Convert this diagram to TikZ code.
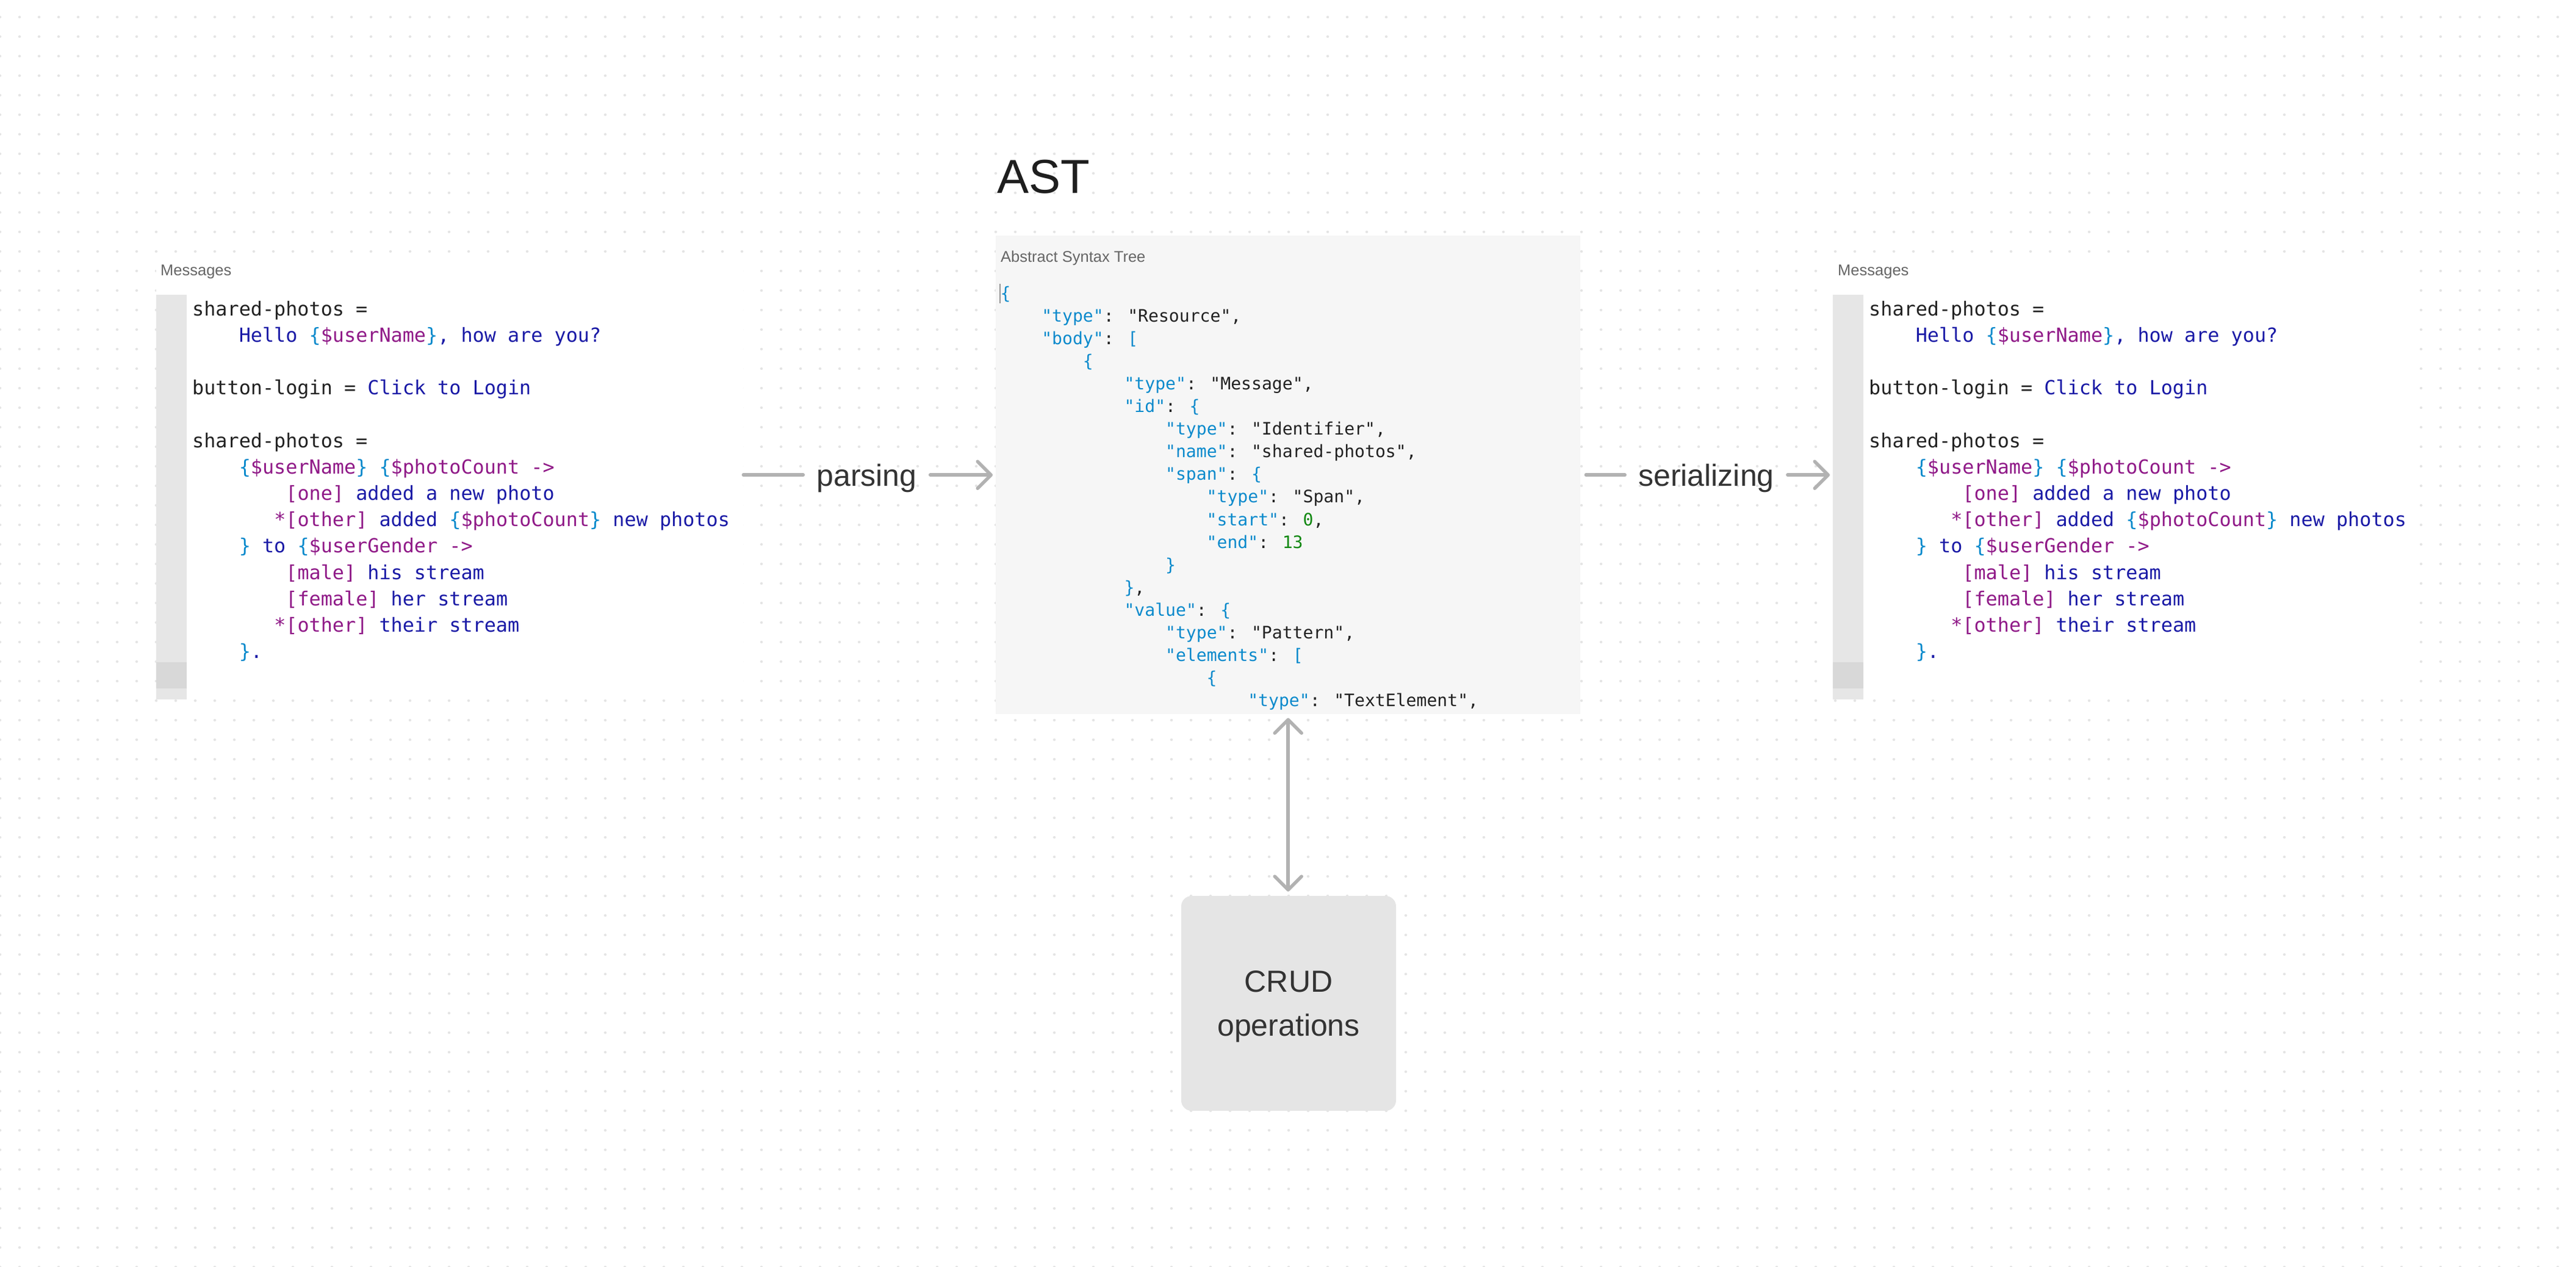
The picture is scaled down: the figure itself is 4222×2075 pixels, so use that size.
\documentclass[tikz,border=0pt]{standalone}
\usepackage{fontspec}
\setmainfont{Liberation Sans}
\newfontfamily\codefont{DejaVu Sans Mono}
\usetikzlibrary{arrows.meta}

\definecolor{dotc}{RGB}{228,228,228}
\definecolor{arrc}{RGB}{178,178,178}
\definecolor{kblack}{RGB}{34,34,34}
\definecolor{kstr}{RGB}{26,26,166}
\definecolor{kbr}{RGB}{10,138,204}
\definecolor{kvar}{RGB}{144,26,136}
\definecolor{knum}{RGB}{17,136,17}
\definecolor{astbg}{RGB}{246,246,246}
\definecolor{barc}{RGB}{230,230,230}
\definecolor{bard}{RGB}{216,216,216}
\definecolor{crudbg}{RGB}{229,229,229}
\definecolor{lblc}{RGB}{102,102,102}
\definecolor{txtc}{RGB}{51,51,51}
\definecolor{titlec}{RGB}{30,30,30}

\newcommand\colK[1]{\textcolor{kblack}{#1}}
\newcommand\colS[1]{\textcolor{kstr}{#1}}
\newcommand\colB[1]{\textcolor{kbr}{#1}}
\newcommand\colV[1]{\textcolor{kvar}{#1}}
\newcommand\colN[1]{\textcolor{knum}{#1}}

\tikzset{
  conn/.style={draw=arrc, line width=5.5pt, line cap=round},
  flowarrow/.style={conn, -{Straight Barb[length=22pt,width=44pt,round]}},
  panel/.style={rectangle, fill=white, inner sep=0pt, minimum width=962pt, minimum height=726pt, anchor=north west},
  codeM/.style={anchor=base west, inner sep=0pt, font=\codefont\fontsize{31.8pt}{40pt}\selectfont},
  codeJ/.style={anchor=base west, inner sep=0pt, font=\codefont\fontsize{28.1pt}{36pt}\selectfont},
  lbl/.style={anchor=base west, inner sep=0pt, text=lblc, font=\fontsize{25.5pt}{30pt}\selectfont},
  flowlbl/.style={anchor=base, inner ysep=0pt, inner xsep=22pt, text=txtc, font=\fontsize{50pt}{60pt}\selectfont},
}

% #1 = x of column 0, #2 = node name prefix
\newcommand\drawmsgs[2]{%
  \node[codeM] (#2a) at (#1,517) {\colK{shared-photos =}};
  \node[codeM] (#2b) at ({#1+76.6},560.2) {\colS{Hello} \colB{\{}\colV{\$userName}\colB{\}}\colS{, how are you?}};
  \node[codeM] (#2c) at (#1,646.6) {\colK{button-login =} \colS{Click to Login}};
  \node[codeM] (#2d) at (#1,733) {\colK{shared-photos =}};
  \node[codeM] (#2e) at ({#1+76.6},776.2) {\colB{\{}\colV{\$userName}\colB{\}} \colB{\{}\colV{\$photoCount ->}};
  \node[codeM] (#2f) at ({#1+153.2},819.4) {\colV{[one]} \colS{added a new photo}};
  \node[codeM] (#2g) at ({#1+134.05},862.6) {\colV{*[other]} \colS{added} \colB{\{}\colV{\$photoCount}\colB{\}} \colS{new photos}};
  \node[codeM] (#2h) at ({#1+76.6},905.8) {\colB{\}} \colS{to} \colB{\{}\colV{\$userGender ->}};
  \node[codeM] (#2i) at ({#1+153.2},949) {\colV{[male]} \colS{his stream}};
  \node[codeM] (#2j) at ({#1+153.2},992.2) {\colV{[female]} \colS{her stream}};
  \node[codeM] (#2k) at ({#1+134.05},1035.4) {\colV{*[other]} \colS{their stream}};
  \node[codeM] (#2l) at ({#1+76.6},1078.6) {\colB{\}}\colS{.}};
}

\begin{document}
\begin{tikzpicture}[x=1pt,y=-1pt]
  \fill[white] (0,0) rectangle (4222,2075);
  \useasboundingbox (0,0) rectangle (4222,2075);

  % dotted canvas
  \foreach \r in {0,...,64}{
    \draw[dotc, line width=4.5pt, line cap=round, dash pattern=on 0.01pt off 31.99pt]
      (0,{28+32*\r}) -- (4222,{28+32*\r});
  }

  % title
  \node[anchor=base west, inner sep=0pt, text=titlec, font=\fontsize{78pt}{90pt}\selectfont] (asttitle) at (1634,316) {AST};

  % left messages panel
  \node[panel] (msgL) at (256,420) {};
  \fill[barc] (256,483) rectangle (306,1146);
  \fill[bard] (256,1085) rectangle (306,1128);
  \node[lbl] (msgLlbl) at (263,451) {Messages};
  \drawmsgs{315}{L}

  % right messages panel
  \node[panel] (msgR) at (3004,420) {};
  \fill[barc] (3004,483) rectangle (3054,1146);
  \fill[bard] (3004,1085) rectangle (3054,1128);
  \node[lbl] (msgRlbl) at (3012,451) {Messages};
  \drawmsgs{3063}{R}

  % AST panel
  \node[rectangle, fill=astbg, inner sep=0pt, minimum width=958pt, minimum height=784pt, anchor=north west] (ast) at (1632,386) {};
  \node[lbl] (astlbl) at (1640,429) {Abstract Syntax Tree};
  \draw[lblc!70, line width=1.5pt] (1639,465) -- (1639,497);
  \node[codeJ] (j1) at (1639.5,490) {\colB{\{}};
  \node[codeJ] (j2) at (1707.1,527.1) {\colB{"type"}\colK{: "Resource",}};
  \node[codeJ] (j3) at (1707.1,564.2) {\colB{"body"}\colK{:} \colB{[}};
  \node[codeJ] (j4) at (1774.7,601.3) {\colB{\{}};
  \node[codeJ] (j5) at (1842.3,638.4) {\colB{"type"}\colK{: "Message",}};
  \node[codeJ] (j6) at (1842.3,675.5) {\colB{"id"}\colK{:} \colB{\{}};
  \node[codeJ] (j7) at (1909.9,712.6) {\colB{"type"}\colK{: "Identifier",}};
  \node[codeJ] (j8) at (1909.9,749.7) {\colB{"name"}\colK{: "shared-photos",}};
  \node[codeJ] (j9) at (1909.9,786.8) {\colB{"span"}\colK{:} \colB{\{}};
  \node[codeJ] (j10) at (1977.5,823.9) {\colB{"type"}\colK{: "Span",}};
  \node[codeJ] (j11) at (1977.5,861) {\colB{"start"}\colK{:} \colN{0}\colK{,}};
  \node[codeJ] (j12) at (1977.5,898.1) {\colB{"end"}\colK{:} \colN{13}};
  \node[codeJ] (j13) at (1909.9,935.2) {\colB{\}}};
  \node[codeJ] (j14) at (1842.3,972.3) {\colB{\}}\colK{,}};
  \node[codeJ] (j15) at (1842.3,1009.4) {\colB{"value"}\colK{:} \colB{\{}};
  \node[codeJ] (j16) at (1909.9,1046.5) {\colB{"type"}\colK{: "Pattern",}};
  \node[codeJ] (j17) at (1909.9,1083.6) {\colB{"elements"}\colK{:} \colB{[}};
  \node[codeJ] (j18) at (1977.5,1120.7) {\colB{\{}};
  \node[codeJ] (j19) at (2045.1,1157.8) {\colB{"type"}\colK{: "TextElement",}};

  % CRUD box
  \node[rectangle, rounded corners=17pt, fill=crudbg, minimum width=352pt, minimum height=352pt,
        inner sep=0pt, align=center, text=txtc, font=\fontsize{50pt}{72pt}\selectfont] (crud) at (2112,1644) {\rule{0pt}{46pt}CRUD\\operations};

  % flow labels
  \node[flowlbl] (parsing) at (1420.5,796) {parsing};
  \node[flowlbl] (serial) at (2796.5,796) {serializing};

  % connectors
  \draw[conn] (msgL.east |- ast.west) -- (parsing.west |- ast.west);
  \draw[flowarrow, shorten >=5pt] (parsing.east |- ast.west) -- (ast.west);
  \draw[conn, shorten <=9pt] (ast.east) -- (serial.west |- ast.east);
  \draw[flowarrow, shorten >=5pt] (serial.east |- ast.east) -- (msgR.west |- ast.east);
  \draw[conn, {Straight Barb[length=22pt,width=44pt,round]}-{Straight Barb[length=22pt,width=44pt,round]},
        shorten <=6pt, shorten >=7pt] (ast.south) -- (ast.south |- crud.north);
\end{tikzpicture}
\end{document}
